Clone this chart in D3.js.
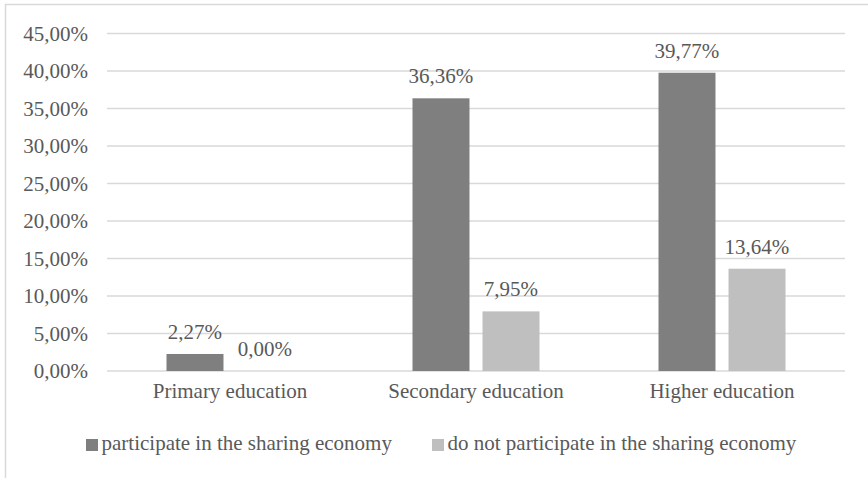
<!DOCTYPE html>
<html>
<head>
<meta charset="utf-8">
<script src="https://cdn.jsdelivr.net/npm/d3@7"></script>
<style>
  html, body { margin: 0; padding: 0; background: #fff; }
</style>
</head>
<body>
<svg id="chart" width="868" height="478" font-family="'Liberation Serif', 'Times New Roman', Times, serif"></svg>
<script>
// Share of respondents by education level
const categories = ["Primary education", "Secondary education", "Higher education"];
const seriesNames = ["participate in the sharing economy", "do not participate in the sharing economy"];
const participate = [2.27, 36.36, 39.77];
const notParticipate = [0.00, 7.95, 13.64];
const yTicks = [0, 5, 10, 15, 20, 25, 30, 35, 40, 45];
const seriesColors = ["#7f7f7f", "#bfbfbf"];

const values = [participate, notParticipate];
const fmt = v => v.toFixed(2).replace(".", ",") + "%";

const svg = d3.select("#chart");
const plot = { left: 107, right: 845, top: 33.5, bottom: 371 };
const fontSize = 21;
const textColor = "#595959";

// outer chart frame
svg.append("rect")
  .attr("x", 5.5).attr("y", 4.5)
  .attr("width", 900).attr("height", 500)
  .attr("fill", "none").attr("stroke", "#d9d9d9").attr("stroke-width", 1.5);

const y = d3.scaleLinear().domain([0, 45]).range([plot.bottom, plot.top]);

const x0 = d3.scaleBand().domain(categories)
  .range([plot.left, plot.right])
  .paddingInner(0.4837).paddingOuter(0.24185);

const x1 = d3.scaleBand().domain(d3.range(seriesNames.length))
  .range([0, x0.bandwidth()])
  .paddingInner(0.186);

// gridlines
svg.append("g").selectAll("line").data(yTicks).join("line")
  .attr("x1", plot.left).attr("x2", plot.right)
  .attr("y1", d => y(d)).attr("y2", d => y(d))
  .attr("stroke", "#d9d9d9").attr("stroke-width", 1.3);

// y axis labels
svg.append("g").selectAll("text").data(yTicks).join("text")
  .attr("x", 88).attr("y", d => y(d))
  .attr("dy", "0.35em")
  .attr("text-anchor", "end")
  .attr("font-size", fontSize).attr("fill", textColor)
  .text(d => fmt(d));

// bars and value labels
const groups = svg.append("g").selectAll("g").data(categories).join("g")
  .attr("transform", c => `translate(${x0(c)},0)`);

groups.each(function (c, ci) {
  const g = d3.select(this);
  values.forEach((vals, si) => {
    const v = vals[ci];
    g.append("rect")
      .attr("x", x1(si)).attr("width", x1.bandwidth())
      .attr("y", y(v)).attr("height", y(0) - y(v))
      .attr("fill", seriesColors[si]);
    g.append("text")
      .attr("x", x1(si) + x1.bandwidth() / 2)
      .attr("y", y(v) - 15)
      .attr("text-anchor", "middle")
      .attr("font-size", fontSize).attr("fill", textColor)
      .text(fmt(v));
  });
});

// category labels
svg.append("g").selectAll("text").data(categories).join("text")
  .attr("x", c => x0(c) + x0.bandwidth() / 2)
  .attr("y", 398)
  .attr("text-anchor", "middle")
  .attr("font-size", fontSize).attr("fill", textColor)
  .text(c => c);

// legend
const legendX = [86, 432];
const legend = svg.append("g").selectAll("g").data(seriesNames).join("g")
  .attr("transform", (d, i) => `translate(${legendX[i]},439)`);
legend.append("rect")
  .attr("width", 12).attr("height", 12)
  .attr("fill", (d, i) => seriesColors[i]);
legend.append("text")
  .attr("x", 15.5).attr("y", 11)
  .attr("font-size", fontSize).attr("fill", textColor)
  .text(d => d);
</script>
</body>
</html>
